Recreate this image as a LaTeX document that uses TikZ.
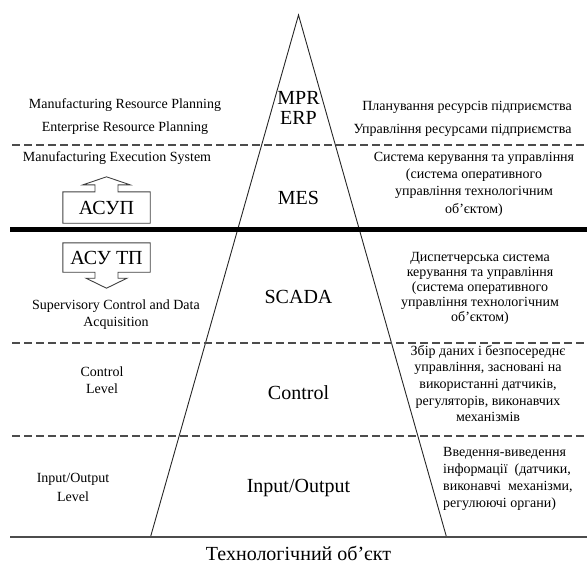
\documentclass[tikz,border=0pt]{standalone}
\usepackage{fontspec}
\setmainfont{Liberation Serif}
\usetikzlibrary{positioning}
\tikzset{levelnode/.style={font=\fontsize{20}{24}\selectfont, inner sep=0pt},
notenode/.style={font=\fontsize{14}{17}\selectfont, align=center, inner sep=0pt},
asunode/.style={font=\fontsize{20}{24}\selectfont, minimum width=87pt, inner sep=0pt},
outline/.style={draw=black!75, line width=0.9pt},
dashline/.style={draw=black!70, line width=1.3pt, dash pattern=on 8pt off 4pt},}

\begin{document}
\begin{tikzpicture}[x=1pt, y=-1pt]
\useasboundingbox (0,0) rectangle (587,566);
\coordinate (apex) at (298.5,15);
\coordinate (bl) at (150.5,537);
\coordinate (br) at (446.5,537);
\draw[black!85, line width=0.9pt] (bl) -- (apex) -- (br);
\draw[black!70, line width=1.2pt] (10,537) -- (587,537);
\draw[line width=4.5pt] (10,229.5) -- (587,229.5);
\draw[dashline] (12,145) -- (587,145);
\draw[dashline] (12,343) -- (587,343);
\draw[dashline] (12,436) -- (587,436);
% pyramid levels
\node[levelnode] (mpr) at (298.5,98) {MPR};
\node[levelnode] (erp) [below=6pt of mpr] {ERP};
\node[levelnode] (mes) at (298.5,198) {MES};
\node[levelnode] (scada) at (298.5,297) {SCADA};
\node[levelnode] (ctrl) at (298.5,393) {Control};
\node[levelnode] (io) at (298.5,488) {Input/Output};
\node[levelnode] (obj) at (298.5,553) {Технологічний об’єкт};
% left side
\node[notenode] (mrp) at (125,105) {Manufacturing Resource Planning};
\node[notenode] (erpl) at (125,128) {Enterprise Resource Planning};
\node[notenode] (mesl) at (117,158) {Manufacturing Execution System};
\node[notenode] (scadal) at (116,315) {Supervisory Control and Data\\Acquisition};
\node[notenode] (ctrll) at (102,380) {Control\\Level};
\node[notenode, font=\fontsize{14}{19}\selectfont] (iol) at (73,487) {Input/Output\\Level};
% right side
\node[notenode] (mprr) at (467,107) {Планування ресурсів підприємства};
\node[notenode] (erpr) at (462.5,130) {Управління ресурсами підприємства};
\node[notenode, font=\fontsize{14}{17.3}\selectfont] (mesr) at (474,184) {Система керування та управління\\(система оперативного\\управління технологічним\\об’єктом)};
\node[notenode, font=\fontsize{14}{15}\selectfont] (scadar) at (480,288) {Диспетчерська система\\керування та управління\\(система оперативного\\управління технологічним\\об’єктом)};
\node[notenode, font=\fontsize{14}{16.7}\selectfont] (ctrlr) at (488,383.5) {Збір даних і безпосереднє\\управління, засновані на\\використанні датчиків,\\регуляторів, виконавчих\\механізмів};
\node[notenode, align=left, anchor=west] (ior) at (443,479) {Введення-виведення\\інформації~~(датчики,\\виконавчі~~механізми,\\регулюючі органи)};
% ASU blocks
\node[asunode, minimum height=31pt] (asup) at (106.5,207.5) {АСУП};
\node[asunode, minimum height=29pt] (asutp) at (106.5,257.5) {АСУ ТП};
\draw[outline] (asup.south west) -- (asup.north west) -- ([xshift=-11.5pt]asup.north)
  -- ++(0,-7) -- ++(-12,0) -- ++(23.5,-8) -- ++(23.5,8) -- ++(-12,0) -- ++(0,7)
  -- (asup.north east) -- (asup.south east) -- cycle;
\draw[outline] (asutp.north west) -- (asutp.south west) -- ([xshift=-11.5pt]asutp.south)
  -- ++(0,6) -- ++(-9,0) -- ++(20.5,10) -- ++(20.5,-10) -- ++(-9,0) -- ++(0,-6)
  -- (asutp.south east) -- (asutp.north east) -- cycle;
\end{tikzpicture}
\end{document}
